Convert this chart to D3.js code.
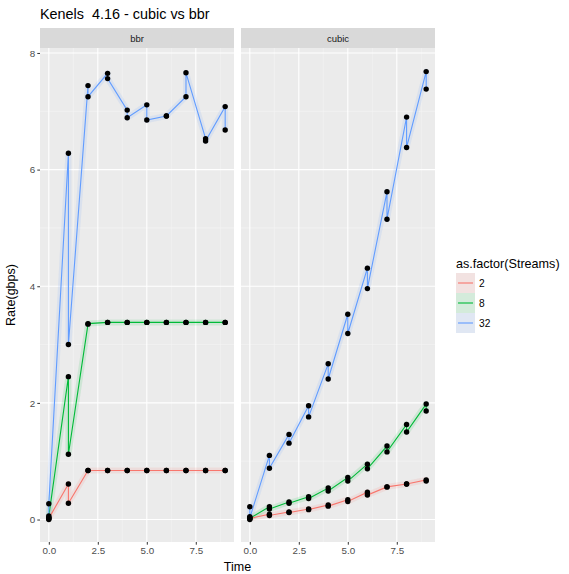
<!DOCTYPE html>
<html>
<head>
<meta charset="utf-8">
<script src="https://cdn.jsdelivr.net/npm/d3@7"></script>
<style>
  body { margin: 0; background: #fff; }
  text { font-family: "Liberation Sans", Arial, sans-serif; }
</style>
</head>
<body>
<div id="chart"></div>
<script>
// each time has two runs; the line visits run A then run B
const times = [0, 1, 2, 3, 4, 5, 6, 7, 8, 9];
const streams = ['2', '8', '32'];
const panels = ['bbr', 'cubic'];

const bbr2A = [0.0, 0.61, 0.84, 0.84, 0.84, 0.84, 0.84, 0.84, 0.84, 0.84];
const bbr2B = [0.02, 0.28, 0.84, 0.84, 0.84, 0.84, 0.84, 0.84, 0.84, 0.84];
const bbr8A = [0.02, 2.45, 3.35, 3.38, 3.38, 3.38, 3.38, 3.38, 3.38, 3.38];
const bbr8B = [0.06, 1.12, 3.36, 3.38, 3.38, 3.38, 3.38, 3.38, 3.38, 3.38];
const bbr32A = [0.04, 6.28, 7.44, 7.65, 7.02, 7.11, 6.92, 7.25, 6.53, 7.08];
const bbr32B = [0.27, 3.0, 7.25, 7.56, 6.89, 6.85, 6.92, 7.66, 6.49, 6.68];

const cubic2A = [0.0, 0.09, 0.13, 0.18, 0.25, 0.34, 0.47, 0.56, 0.61, 0.68];
const cubic2B = [0.02, 0.07, 0.12, 0.17, 0.23, 0.31, 0.42, 0.56, 0.61, 0.66];
const cubic8A = [0.05, 0.22, 0.30, 0.39, 0.54, 0.72, 0.95, 1.26, 1.63, 1.98];
const cubic8B = [0.02, 0.18, 0.28, 0.36, 0.49, 0.66, 0.87, 1.16, 1.50, 1.86];
const cubic32A = [0.22, 1.10, 1.46, 1.95, 2.67, 3.52, 4.31, 5.62, 6.90, 7.68];
const cubic32B = [0.03, 0.88, 1.31, 1.76, 2.41, 3.19, 3.96, 5.15, 6.38, 7.38];

const xTicks = [0, 2.5, 5, 7.5];
const xMinor = [1.25, 3.75, 6.25, 8.75];
const yTicks = [0, 2, 4, 6, 8];
const yMinor = [1, 3, 5, 7];

const colors = { '2': '#F8766D', '8': '#00BA38', '32': '#619CFF' };

const runs = {
  bbr: { '2': [bbr2A, bbr2B], '8': [bbr8A, bbr8B], '32': [bbr32A, bbr32B] },
  cubic: { '2': [cubic2A, cubic2B], '8': [cubic8A, cubic8B], '32': [cubic32A, cubic32B] }
};

function toPath([a, b]) {
  const out = [];
  times.forEach((t, i) => {
    out.push({ t, v: a[i] });
    out.push({ t, v: b[i] });
  });
  return out;
}

const width = 569;
const height = 574;

const panelBox = {
  bbr: [40, 234],
  cubic: [241, 435]
};
const panelTop = 48;
const panelBottom = 542;
const stripTop = 28;
const tickFont = 9.8;

const y = d3.scaleLinear().domain([-0.385, 8.085]).range([panelBottom, panelTop]);

const svg = d3.select('#chart').append('svg')
  .attr('width', width)
  .attr('height', height);

svg.append('text')
  .attr('x', 40)
  .attr('y', 19)
  .attr('font-size', 14.4)
  .attr('fill', '#000')
  .style('white-space', 'pre')
  .text('Kenels  4.16 - cubic vs bbr');

panels.forEach((p) => {
  const [x0, x1] = panelBox[p];
  const x = d3.scaleLinear().domain([-0.45, 9.45]).range([x0, x1]);
  const g = svg.append('g');

  // strip
  g.append('rect')
    .attr('x', x0).attr('y', stripTop)
    .attr('width', x1 - x0).attr('height', panelTop - stripTop)
    .attr('fill', '#D9D9D9');
  g.append('text')
    .attr('x', (x0 + x1) / 2).attr('y', panelTop - 6.5)
    .attr('text-anchor', 'middle')
    .attr('font-size', 9.5)
    .attr('fill', '#1A1A1A')
    .text(p);

  // panel background + grid
  g.append('rect')
    .attr('x', x0).attr('y', panelTop)
    .attr('width', x1 - x0).attr('height', panelBottom - panelTop)
    .attr('fill', '#EBEBEB');

  g.selectAll('.ymin').data(yMinor).enter().append('line')
    .attr('x1', x0).attr('x2', x1)
    .attr('y1', (d) => y(d)).attr('y2', (d) => y(d))
    .attr('stroke', '#F5F5F5').attr('stroke-width', 0.6);
  g.selectAll('.xmin').data(xMinor).enter().append('line')
    .attr('y1', panelTop).attr('y2', panelBottom)
    .attr('x1', (d) => x(d)).attr('x2', (d) => x(d))
    .attr('stroke', '#F5F5F5').attr('stroke-width', 0.6);
  g.selectAll('.ymaj').data(yTicks).enter().append('line')
    .attr('x1', x0).attr('x2', x1)
    .attr('y1', (d) => y(d)).attr('y2', (d) => y(d))
    .attr('stroke', '#fff').attr('stroke-width', 1.1);
  g.selectAll('.xmaj').data(xTicks).enter().append('line')
    .attr('y1', panelTop).attr('y2', panelBottom)
    .attr('x1', (d) => x(d)).attr('x2', (d) => x(d))
    .attr('stroke', '#fff').attr('stroke-width', 1.1);

  // x axis
  const xAxis = d3.axisBottom(x)
    .tickValues(xTicks)
    .tickSizeInner(2.7)
    .tickSizeOuter(0)
    .tickPadding(2)
    .tickFormat(d3.format('.1f'));
  const xa = g.append('g')
    .attr('transform', `translate(0, ${panelBottom})`)
    .call(xAxis);
  xa.select('.domain').remove();
  xa.selectAll('line').attr('stroke', '#333');
  xa.selectAll('text').attr('fill', '#4D4D4D').attr('font-size', tickFont)
    .style('font-family', '"Liberation Sans", Arial, sans-serif');

  if (p === 'bbr') {
    const yAxis = d3.axisLeft(y)
      .tickValues(yTicks)
      .tickSizeInner(2.7)
      .tickSizeOuter(0)
      .tickPadding(2);
    const ya = g.append('g')
      .attr('transform', `translate(${x0}, 0)`)
      .call(yAxis);
    ya.select('.domain').remove();
    ya.selectAll('line').attr('stroke', '#333');
    ya.selectAll('text').attr('fill', '#4D4D4D').attr('font-size', tickFont)
      .style('font-family', '"Liberation Sans", Arial, sans-serif');
  }

  const line = d3.line().x((d) => x(d.t)).y((d) => y(d.v));

  // faint ribbon-like halo, then the line
  streams.forEach((s) => {
    g.append('path')
      .datum(toPath(runs[p][s]))
      .attr('d', line)
      .attr('fill', 'none')
      .attr('stroke', colors[s])
      .attr('stroke-opacity', 0.12)
      .attr('stroke-width', 6)
      .attr('stroke-linejoin', 'round');
  });
  streams.forEach((s) => {
    g.append('path')
      .datum(toPath(runs[p][s]))
      .attr('d', line)
      .attr('fill', 'none')
      .attr('stroke', colors[s])
      .attr('stroke-width', 1.1);
  });
  streams.forEach((s) => {
    g.selectAll(null)
      .data(toPath(runs[p][s]))
      .enter()
      .append('circle')
      .attr('cx', (d) => x(d.t))
      .attr('cy', (d) => y(d.v))
      .attr('r', 2.7)
      .attr('fill', '#000');
  });
});

// axis titles
svg.append('text')
  .attr('x', (panelBox.bbr[0] + panelBox.cubic[1]) / 2)
  .attr('y', 571)
  .attr('text-anchor', 'middle')
  .attr('font-size', 12.5)
  .attr('fill', '#000')
  .text('Time');
svg.append('text')
  .attr('transform', `translate(15, ${(panelTop + panelBottom) / 2}) rotate(-90)`)
  .attr('text-anchor', 'middle')
  .attr('font-size', 12.5)
  .attr('fill', '#000')
  .text('Rate(gbps)');

// legend
const legend = svg.append('g').attr('transform', 'translate(456, 0)');
legend.append('text')
  .attr('x', 0).attr('y', 267.5)
  .attr('font-size', 12.6)
  .attr('fill', '#000')
  .text('as.factor(Streams)');

const keyY = (i) => 273 + i * 20;
legend.selectAll('.kbg').data(streams).enter().append('rect')
  .attr('x', 0).attr('y', (d, i) => keyY(i))
  .attr('width', 19).attr('height', 20)
  .attr('fill', '#F2F2F2');
legend.selectAll('.kfill').data(streams).enter().append('rect')
  .attr('x', 0).attr('y', (d, i) => keyY(i))
  .attr('width', 19).attr('height', 20)
  .attr('fill', (d) => colors[d])
  .attr('fill-opacity', 0.12);
legend.selectAll('.kline').data(streams).enter().append('line')
  .attr('x1', 2).attr('x2', 17)
  .attr('y1', (d, i) => keyY(i) + 10).attr('y2', (d, i) => keyY(i) + 10)
  .attr('stroke', (d) => colors[d])
  .attr('stroke-width', 1.1);
legend.selectAll('.klab').data(streams).enter().append('text')
  .attr('x', 23).attr('y', (d, i) => keyY(i) + 14)
  .attr('font-size', 10.2)
  .attr('fill', '#000')
  .text((d) => d);
</script>
</body>
</html>
